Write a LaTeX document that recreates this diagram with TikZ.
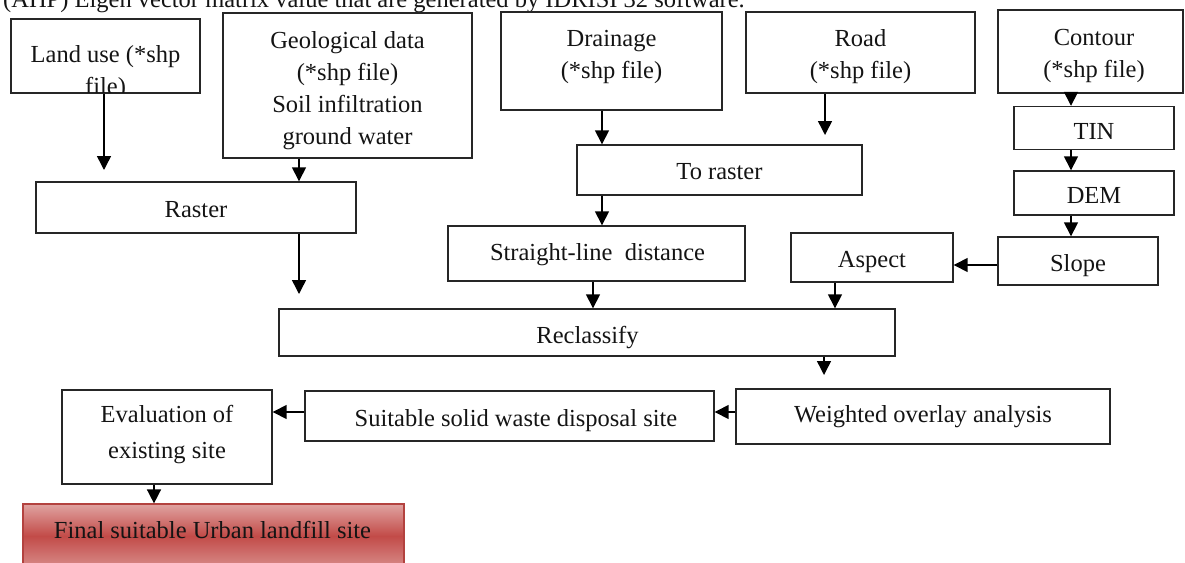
\documentclass[tikz,border=0pt]{standalone}
\usepackage{fontspec}
\setmainfont{Liberation Serif}
\usetikzlibrary{arrows.meta}
\definecolor{boxline}{HTML}{262626}
\definecolor{redtop}{HTML}{E0A3A1}
\definecolor{redmid}{HTML}{C24B48}
\definecolor{redbot}{HTML}{D88C8A}
\definecolor{redline}{HTML}{B3423F}
\begin{document}
\begin{tikzpicture}[x=1pt,y=-1pt,
  box/.style={draw=boxline,line width=1.4pt,rectangle,inner sep=0pt},
  txt/.style={anchor=base,inner sep=0pt,text=black!92,font=\fontsize{24.5}{31}\selectfont},
  arr/.style={draw=black,line width=1.5pt,-{Triangle[width=14pt,length=14pt]}},
  finalbox/.style={draw=redline,line width=1.2pt,rectangle,inner sep=0pt,
    top color=redtop,bottom color=redbot,middle color=redmid}]
\useasboundingbox (0,0) rectangle (1185,562);
\clip (0,0) rectangle (1185,562);

% caption line cut at the top
\node[txt,anchor=base west] (cap) at (3,7) {(AHP) Eigen vector matrix value that are generated by IDRISI 32 software.};

% boxes
\node[box,minimum width=189pt,minimum height=74pt] (landuse) at (105.5,56) {};
\node[box,minimum width=249pt,minimum height=145pt] (geo) at (347.5,85.5) {};
\node[box,minimum width=221pt,minimum height=98pt] (drain) at (611.5,61) {};
\node[box,minimum width=229pt,minimum height=81pt] (road) at (860.5,52.5) {};
\node[box,minimum width=185pt,minimum height=83pt] (contour) at (1090.5,51.5) {};
\node[box,minimum width=160pt,minimum height=43pt] (tin) at (1094,128) {};
\node[box,minimum width=160pt,minimum height=44pt] (dem) at (1094,193) {};
\node[box,minimum width=160pt,minimum height=48pt] (slope) at (1078,261) {};
\node[box,minimum width=162pt,minimum height=49pt] (aspect) at (872,257.5) {};
\node[box,minimum width=285pt,minimum height=50pt] (toraster) at (719.5,170) {};
\node[box,minimum width=297pt,minimum height=55pt] (sld) at (596.5,253.5) {};
\node[box,minimum width=320pt,minimum height=51pt] (raster) at (196,207.5) {};
\node[box,minimum width=616pt,minimum height=47pt] (reclass) at (587,332.5) {};
\node[box,minimum width=374pt,minimum height=55pt] (weighted) at (923,416.5) {};
\node[box,minimum width=409pt,minimum height=50pt] (suitable) at (509.5,416) {};
\node[box,minimum width=210pt,minimum height=94pt] (eval) at (167,437) {};
\node[finalbox,minimum width=381pt,minimum height=64pt] (final) at (213.5,536) {};

% texts
\node[txt] (lu1) at (105.5,62) {Land use (*shp};
\begin{scope}
  \clip (11,19) rectangle (200,92.3);
  \node[txt] (lu2) at (105.5,94) {file)};
\end{scope}
\node[txt] (geo1) at (347.5,48) {Geological data};
\node[txt] (geo2) at (347.5,80) {(*shp file)};
\node[txt] (geo3) at (347.5,112) {Soil infiltration};
\node[txt] (geo4) at (347.5,144) {ground water};
\node[txt] (dr1) at (611.5,46) {Drainage};
\node[txt] (dr2) at (611.5,78) {(*shp file)};
\node[txt] (rd1) at (860.5,46) {Road};
\node[txt] (rd2) at (860.5,78) {(*shp file)};
\node[txt] (ct1) at (1094,45) {Contour};
\node[txt] (ct2) at (1094,77) {(*shp file)};
\node[txt] (tint) at (1094,139) {TIN};
\node[txt] (demt) at (1094,203) {DEM};
\node[txt] (slopet) at (1078,271) {Slope};
\node[txt] (aspectt) at (872,267) {Aspect};
\node[txt] (torastert) at (719.5,179) {To raster};
\node[txt] (sldt) at (597.5,260) {Straight-line~ distance};
\node[txt] (rastert) at (196,217) {Raster};
\node[txt] (reclasst) at (587.5,343) {Reclassify};
\node[txt] (weightedt) at (923,422) {Weighted overlay analysis};
\node[txt] (suitablet) at (516,426) {Suitable solid waste disposal site};
\node[txt] (eval1) at (167,422) {Evaluation of};
\node[txt] (eval2) at (167,458) {existing site};
\node[txt] (finalt) at (212.5,538) {Final suitable Urban landfill site};

% guide coordinates
\coordinate (xlu) at (104,0);
\coordinate (xgeo) at (299,0);
\coordinate (xdr) at (602,0);
\coordinate (xrd) at (825,0);
\coordinate (xsld) at (593,0);
\coordinate (xct) at (1071,0);
\coordinate (xas) at (835,0);
\coordinate (xrc) at (824,0);
\coordinate (xev) at (154,0);
\coordinate (ysl) at (0,265);
\coordinate (yw) at (0,412);
\coordinate (luend) at (104,170);
\coordinate (rasend) at (299,294);
\coordinate (rdend) at (825,135);
\coordinate (rcend) at (824,375);

% connectors
\draw[arr] (landuse.south -| xlu) -- (luend);
\draw[arr] (geo.south -| xgeo) -- (raster.north -| xgeo);
\draw[arr] (raster.south -| xgeo) -- (rasend);
\draw[arr] (drain.south -| xdr) -- (toraster.north -| xdr);
\draw[arr] (road.south -| xrd) -- (rdend);
\draw[arr] (toraster.south -| xdr) -- (sld.north -| xdr);
\draw[arr] (sld.south -| xsld) -- (reclass.north -| xsld);
\draw[arr] (contour.south -| xct) -- (tin.north -| xct);
\draw[arr] (tin.south -| xct) -- (dem.north -| xct);
\draw[arr] (dem.south -| xct) -- (slope.north -| xct);
\draw[arr] (slope.west |- ysl) -- (aspect.east |- ysl);
\draw[arr] (aspect.south -| xas) -- (reclass.north -| xas);
\draw[arr] (reclass.south -| xrc) -- (rcend);
\draw[arr] (weighted.west |- yw) -- (suitable.east |- yw);
\draw[arr] (suitable.west |- yw) -- (eval.east |- yw);
\draw[arr] (eval.south -| xev) -- (final.north -| xev);
\end{tikzpicture}
\end{document}
